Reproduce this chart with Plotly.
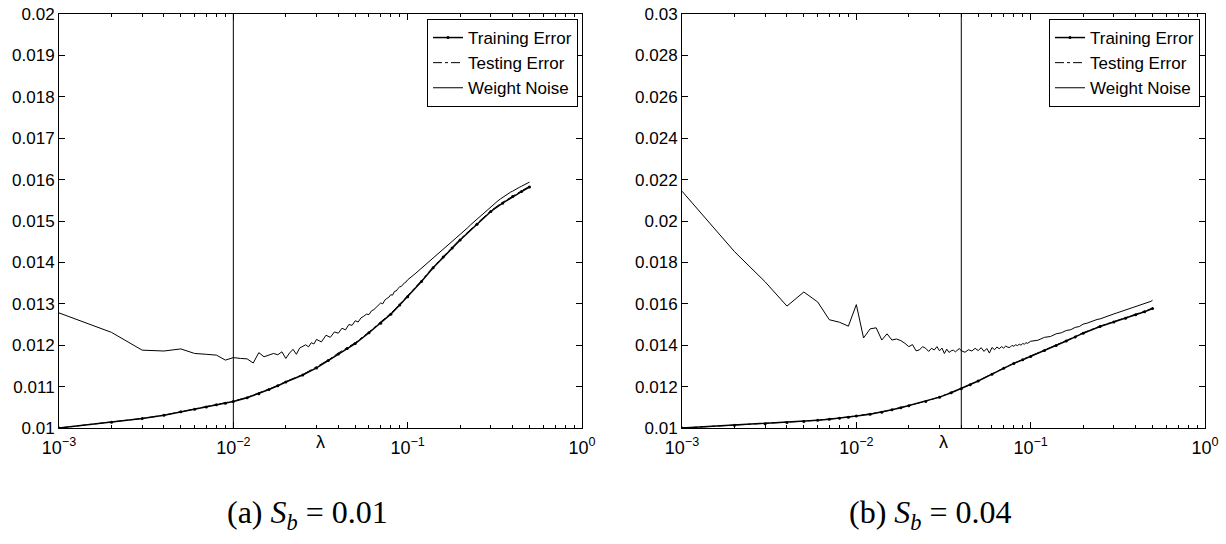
import plotly.graph_objects as go

# ---------------- data ----------------
# panel (a)  S_b = 0.01
lam_train_a = [0.001, 0.002, 0.003, 0.004, 0.005, 0.006, 0.007, 0.008, 0.009, 0.01,
               0.012, 0.014, 0.016, 0.018, 0.02, 0.025, 0.03, 0.035, 0.04, 0.045,
               0.05, 0.06, 0.07, 0.08, 0.09, 0.1, 0.12, 0.14, 0.16, 0.18,
               0.2, 0.25, 0.3, 0.35, 0.4, 0.45, 0.5]
train_a = [0.01000, 0.01014, 0.01023, 0.01031, 0.01039, 0.01045, 0.01051, 0.01056, 0.01060, 0.01064,
           0.01073, 0.01083, 0.01093, 0.01102, 0.01111, 0.01128, 0.01145, 0.01163, 0.01179, 0.01192,
           0.01204, 0.01230, 0.01253, 0.01275, 0.01297, 0.01317, 0.01354, 0.01387, 0.01413, 0.01435,
           0.01454, 0.01492, 0.01523, 0.01543, 0.01559, 0.01571, 0.01582]
test_a = [0.01000, 0.01014, 0.01023, 0.01031, 0.01039, 0.01045, 0.01051, 0.01056, 0.01060, 0.01065,
          0.01074, 0.01084, 0.01094, 0.01103, 0.01112, 0.01129, 0.01147, 0.01164, 0.01181, 0.01194,
          0.01206, 0.01232, 0.01255, 0.01277, 0.01299, 0.01319, 0.01356, 0.01389, 0.01415, 0.01437,
          0.01456, 0.01494, 0.01525, 0.01545, 0.01561, 0.01573, 0.01584]
lam_noise_a = [0.001, 0.002, 0.003, 0.004, 0.005, 0.006, 0.007, 0.008, 0.009, 0.010,
               0.011, 0.012, 0.013, 0.014, 0.015, 0.016, 0.017, 0.018, 0.019, 0.020,
               0.021, 0.022, 0.023, 0.024, 0.025, 0.026, 0.027, 0.028, 0.029, 0.030,
               0.032, 0.034, 0.036, 0.038, 0.040, 0.042, 0.044, 0.046, 0.048, 0.050,
               0.052, 0.054, 0.056, 0.058, 0.060, 0.062, 0.064, 0.066, 0.068, 0.070,
               0.072, 0.074, 0.076, 0.078, 0.080, 0.082, 0.084, 0.086, 0.088, 0.090,
               0.092, 0.094, 0.096, 0.098, 0.100,
               0.11, 0.12, 0.13, 0.14, 0.15, 0.16, 0.17, 0.18, 0.19, 0.20,
               0.21, 0.22, 0.23, 0.24, 0.25, 0.26, 0.27, 0.28, 0.29, 0.30,
               0.31, 0.32, 0.33, 0.34, 0.35, 0.36, 0.37, 0.38, 0.39, 0.40,
               0.41, 0.42, 0.43, 0.44, 0.45, 0.46, 0.47, 0.48, 0.49, 0.50]
noise_a = [0.01278, 0.01231, 0.01188, 0.01186, 0.01191, 0.01180, 0.01178, 0.01176, 0.01164, 0.01170,
           0.01168, 0.01167, 0.01157, 0.01182, 0.01172, 0.01176, 0.01180, 0.01177, 0.01184, 0.01168,
           0.01181, 0.01190, 0.01178, 0.01193, 0.01198, 0.01201, 0.01196, 0.01206, 0.01203, 0.01214,
           0.01208, 0.01224, 0.01219, 0.01232, 0.01229, 0.01241, 0.01237, 0.01250, 0.01248, 0.01259,
           0.01256, 0.01266, 0.01270, 0.01275, 0.01274, 0.01283, 0.01286, 0.01291, 0.01295, 0.01302,
           0.01300, 0.01309, 0.01313, 0.01316, 0.01322, 0.01321, 0.01330, 0.01331, 0.01337, 0.01341,
           0.01342, 0.01348, 0.01351, 0.01353, 0.01358,
           0.01372, 0.01386, 0.01399, 0.01411, 0.01422, 0.01432, 0.01442, 0.01450, 0.01458, 0.01466,
           0.01475, 0.01483, 0.01491, 0.01498, 0.01505, 0.01511, 0.01518, 0.01523, 0.01530, 0.01535,
           0.01540, 0.01544, 0.01549, 0.01553, 0.01557, 0.01560, 0.01564, 0.01567, 0.01570, 0.01572,
           0.01575, 0.01577, 0.01580, 0.01582, 0.01584, 0.01586, 0.01588, 0.01590, 0.01592, 0.01594]
vline_a = 0.01

# panel (b)  S_b = 0.04
lam_train_b = lam_train_a
train_b = [0.01000, 0.01013, 0.01021, 0.01027, 0.01032, 0.01037, 0.01042, 0.01047, 0.01052, 0.01058,
           0.01066, 0.01076, 0.01088, 0.01098, 0.01108, 0.01128, 0.01149, 0.01170, 0.01190, 0.01209,
           0.01227, 0.01260, 0.01289, 0.01312, 0.01330, 0.01346, 0.01374, 0.01398, 0.01420, 0.01440,
           0.01458, 0.01490, 0.01512, 0.01530, 0.01547, 0.01562, 0.01577]
test_b = [0.01000, 0.01013, 0.01021, 0.01027, 0.01033, 0.01038, 0.01043, 0.01048, 0.01053, 0.01059,
          0.01067, 0.01077, 0.01089, 0.01099, 0.01109, 0.01129, 0.01150, 0.01171, 0.01191, 0.01210,
          0.01228, 0.01261, 0.01290, 0.01313, 0.01332, 0.01348, 0.01376, 0.01400, 0.01422, 0.01442,
          0.01460, 0.01492, 0.01514, 0.01532, 0.01549, 0.01564, 0.01579]
lam_noise_b = [0.001, 0.002, 0.003, 0.004, 0.005, 0.006, 0.007, 0.008, 0.009, 0.010,
               0.011, 0.012, 0.013, 0.014, 0.015, 0.016, 0.017, 0.018, 0.019, 0.020,
               0.021, 0.022, 0.023, 0.024, 0.025, 0.026, 0.027, 0.028, 0.029, 0.030,
               0.031, 0.032, 0.033, 0.034, 0.035, 0.036, 0.037, 0.038, 0.039, 0.040,
               0.042, 0.044, 0.046, 0.048, 0.050, 0.052, 0.054, 0.056, 0.058, 0.060,
               0.062, 0.064, 0.066, 0.068, 0.070, 0.072, 0.074, 0.076, 0.078, 0.080,
               0.082, 0.084, 0.086, 0.088, 0.090, 0.092, 0.094, 0.096, 0.098, 0.100,
               0.11, 0.12, 0.13, 0.14, 0.15, 0.16, 0.17, 0.18, 0.19, 0.20,
               0.21, 0.22, 0.23, 0.24, 0.25, 0.26, 0.27, 0.28, 0.29, 0.30,
               0.31, 0.32, 0.33, 0.34, 0.35, 0.36, 0.37, 0.38, 0.39, 0.40,
               0.41, 0.42, 0.43, 0.44, 0.45, 0.46, 0.47, 0.48, 0.49, 0.50]
noise_b = [0.02144, 0.01852, 0.01706, 0.01589, 0.01657, 0.01609, 0.01523, 0.01511, 0.01492, 0.01596,
           0.01435, 0.01479, 0.01484, 0.01425, 0.01455, 0.01425, 0.01430, 0.01422, 0.01409, 0.01393,
           0.01403, 0.01373, 0.01377, 0.01393, 0.01385, 0.01370, 0.01385, 0.01377, 0.01393, 0.01373,
           0.01386, 0.01360, 0.01381, 0.01365, 0.01373, 0.01376, 0.01368, 0.01376, 0.01384, 0.01373,
           0.01366, 0.01378, 0.01372, 0.01385, 0.01374, 0.01388, 0.01370, 0.01384, 0.01362, 0.01389,
           0.01378, 0.01391, 0.01383, 0.01393, 0.01386, 0.01396, 0.01390, 0.01389, 0.01399, 0.01395,
           0.01402, 0.01398, 0.01405, 0.01400, 0.01408, 0.01405, 0.01412, 0.01409, 0.01416, 0.01419,
           0.01424, 0.01438, 0.01442, 0.01455, 0.01460, 0.01471, 0.01475, 0.01486, 0.01490, 0.01502,
           0.01506, 0.01513, 0.01516, 0.01524, 0.01527, 0.01533, 0.01537, 0.01543, 0.01546, 0.01551,
           0.01555, 0.01559, 0.01562, 0.01567, 0.01569, 0.01573, 0.01576, 0.01580, 0.01582, 0.01586,
           0.01588, 0.01592, 0.01594, 0.01598, 0.01600, 0.01603, 0.01606, 0.01609, 0.01612, 0.01617]
vline_b = 0.04

# ticks
x_tickvals = [0.001, 0.01, 0.1, 1]
x_ticktext = ["10<sup>\u22123</sup>", "10<sup>\u22122</sup>", "10<sup>\u22121</sup>", "10<sup>0</sup>"]
x_minor = [m * d for d in (0.001, 0.01, 0.1) for m in range(2, 10)]
y_tickvals_a = [0.010, 0.011, 0.012, 0.013, 0.014, 0.015, 0.016, 0.017, 0.018, 0.019, 0.020]
y_ticktext_a = ["0.01", "0.011", "0.012", "0.013", "0.014", "0.015", "0.016", "0.017", "0.018", "0.019", "0.02"]
y_tickvals_b = [0.010, 0.012, 0.014, 0.016, 0.018, 0.020, 0.022, 0.024, 0.026, 0.028, 0.030]
y_ticktext_b = ["0.01", "0.012", "0.014", "0.016", "0.018", "0.02", "0.022", "0.024", "0.026", "0.028", "0.03"]
y_range_a = [0.010, 0.020]
y_range_b = [0.010, 0.030]
series_names = ["Training Error", "Testing Error", "Weight Noise"]
captions = ["(a) <i>S</i><sub><i>b</i></sub> = 0.01", "(b) <i>S</i><sub><i>b</i></sub> = 0.04"]
xlabel = "\u03bb"

# ---------------- figure ----------------
W, H = 1226, 544
SANS = "Liberation Sans, Arial, sans-serif"
SERIF = "Liberation Serif, DejaVu Serif, serif"

fig = go.Figure()

panels = [
    dict(xa="x", ya="y", leg="legend", lt=lam_train_a, tr=train_a, te=test_a,
         ln=lam_noise_a, no=noise_a, vl=vline_a, yr=y_range_a),
    dict(xa="x2", ya="y2", leg="legend2", lt=lam_train_b, tr=train_b, te=test_b,
         ln=lam_noise_b, no=noise_b, vl=vline_b, yr=y_range_b),
]
for p in panels:
    fig.add_trace(go.Scatter(x=p["lt"], y=p["tr"], name=series_names[0], mode="lines+markers",
                             line=dict(color="black", width=1.5),
                             marker=dict(color="black", size=3),
                             xaxis=p["xa"], yaxis=p["ya"], legend=p["leg"]))
    fig.add_trace(go.Scatter(x=p["lt"], y=p["te"], name=series_names[1], mode="lines",
                             line=dict(color="black", width=1, dash="dashdot"),
                             xaxis=p["xa"], yaxis=p["ya"], legend=p["leg"]))
    fig.add_trace(go.Scatter(x=p["ln"], y=p["no"], name=series_names[2], mode="lines",
                             line=dict(color="black", width=1),
                             xaxis=p["xa"], yaxis=p["ya"], legend=p["leg"]))
    fig.add_trace(go.Scatter(x=[p["vl"], p["vl"]], y=p["yr"], mode="lines", showlegend=False,
                             line=dict(color="black", width=1), hoverinfo="skip",
                             xaxis=p["xa"], yaxis=p["ya"]))

xdom_a = [59 / W, 582 / W]
xdom_b = [682 / W, 1205 / W]
ydom = [(H - 428) / H, (H - 14) / H]

axis_common = dict(showline=True, linecolor="black", linewidth=1, mirror="ticks",
                   ticks="inside", ticklen=6, tickcolor="black", tickwidth=1,
                   showgrid=False, zeroline=False, automargin=False,
                   tickfont=dict(family=SANS, size=17, color="black"))

xcommon = dict(axis_common, type="log", range=[-3, 0], tickmode="array",
               tickvals=x_tickvals, ticktext=x_ticktext, ticklabelstandoff=3,
               tickfont=dict(family=SANS, size=18, color="black"),
               minor=dict(tickmode="array", tickvals=x_minor, ticks="inside", ticklen=3,
                          tickcolor="black", showgrid=False))

legend_common = dict(xanchor="right", yanchor="top", xref="paper", yref="paper",
                     bgcolor="white", bordercolor="black", borderwidth=1,
                     font=dict(family=SANS, size=17, color="black"), tracegroupgap=0,
                     itemwidth=30)

fig.update_layout(
    width=W, height=H, margin=dict(l=0, r=0, t=0, b=0, autoexpand=False),
    paper_bgcolor="white", plot_bgcolor="white",
    showlegend=True,
    xaxis=dict(xcommon, domain=xdom_a, anchor="y"),
    xaxis2=dict(xcommon, domain=xdom_b, anchor="y2"),
    yaxis=dict(axis_common, domain=ydom, anchor="x", range=y_range_a, tickmode="array",
               tickvals=y_tickvals_a, ticktext=y_ticktext_a),
    yaxis2=dict(axis_common, domain=ydom, anchor="x2", range=y_range_b, tickmode="array",
                tickvals=y_tickvals_b, ticktext=y_ticktext_b),
    legend=dict(legend_common, x=578 / W, y=(H - 19) / H),
    legend2=dict(legend_common, x=1200 / W, y=(H - 19) / H),
)

for xref, cap in (("x domain", captions[0]), ("x2 domain", captions[1])):
    fig.add_annotation(x=0.5, xref=xref, y=(H - 442) / H, yref="paper", text=xlabel,
                       showarrow=False, font=dict(family=SANS, size=18, color="black"),
                       xanchor="center", yanchor="middle")
    fig.add_annotation(x=0.475, xref=xref, y=(H - 514) / H, yref="paper", text=cap,
                       showarrow=False, font=dict(family=SERIF, size=32, color="black"),
                       xanchor="center", yanchor="middle")

fig.write_html("out.html")
